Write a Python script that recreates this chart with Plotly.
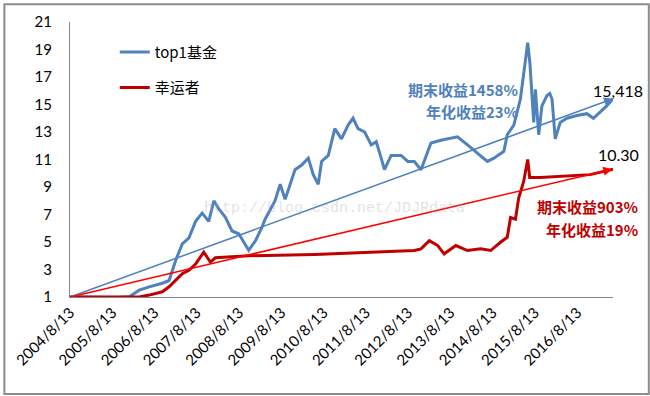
import plotly.graph_objects as go

# ---- data ----
fund_dates = [
    "2004-08-13", "2005-01-10", "2005-05-23", "2005-09-20", "2006-01-08", "2006-04-03",
    "2006-06-28", "2006-10-20", "2006-12-17", "2007-02-12", "2007-04-10",
    "2007-06-07", "2007-08-03", "2007-09-29", "2007-11-25", "2008-01-08",
    "2008-02-20", "2008-04-17", "2008-06-13", "2008-08-10", "2008-11-04",
    "2009-01-02", "2009-02-26", "2009-03-26", "2009-06-20", "2009-08-03",
    "2009-09-15", "2009-12-09", "2010-02-05", "2010-04-03", "2010-05-16",
    "2010-06-28", "2010-07-27", "2010-09-23", "2010-11-18", "2011-01-15",
    "2011-03-13", "2011-04-25", "2011-06-07", "2011-08-03", "2011-09-29",
    "2011-11-11", "2011-12-24", "2012-01-21", "2012-03-19", "2012-06-13",
    "2012-08-10", "2012-10-05", "2012-12-02", "2013-01-15", "2013-02-26",
    "2013-05-23", "2013-10-13", "2014-01-08", "2014-04-03", "2014-06-28",
    "2014-08-24", "2014-11-18", "2014-12-17", "2015-02-12", "2015-04-10",
    "2015-05-08", "2015-06-12", "2015-07-01", "2015-07-15", "2015-08-03",
    "2015-08-17", "2015-09-15", "2015-10-13", "2015-11-25", "2015-12-20",
    "2016-01-08", "2016-02-05", "2016-03-19", "2016-05-16", "2016-08-10",
    "2016-11-04", "2016-12-31", "2017-02-26", "2017-04-25", "2017-06-18",
]
fund_values = [
    1.00, 0.98, 1.00, 0.97, 1.02, 1.50,
    1.74, 2.00, 2.20, 3.66, 4.86,
    5.30, 6.50, 7.10, 6.50, 8.00,
    7.40, 6.80, 5.80, 5.60, 4.40,
    5.10, 6.06, 6.66, 8.00, 9.20,
    8.10, 10.26, 10.60, 11.10, 9.90,
    9.20, 10.86, 11.30, 13.25, 12.50,
    13.50, 14.00, 13.25, 13.00, 12.06,
    12.30, 11.10, 10.26, 11.30, 11.30,
    10.86, 10.86, 10.26, 11.30, 12.20,
    12.40, 12.65, 12.06, 11.45, 10.86,
    11.10, 11.60, 12.80, 13.50, 15.40,
    17.10, 19.50, 18.00, 16.40, 13.70,
    16.10, 12.80, 14.90, 15.65, 15.80,
    15.40, 12.50, 13.70, 14.00, 14.20,
    14.33, 14.00, 14.45, 14.90, 15.42,
]

lucky_dates = [
    "2004-08-13", "2006-04-03", "2006-06-28", "2006-10-20", "2006-12-17",
    "2007-02-12", "2007-04-10", "2007-06-07", "2007-08-03", "2007-10-13",
    "2007-12-09", "2008-01-21", "2008-11-04", "2010-05-30", "2012-10-05",
    "2012-12-02", "2013-02-12", "2013-04-25", "2013-06-20", "2013-09-29",
    "2014-01-08", "2014-05-01", "2014-07-27", "2014-10-20", "2014-12-17",
    "2015-01-15", "2015-02-26", "2015-03-26", "2015-05-08", "2015-06-12",
    "2015-06-29", "2015-09-29", "2016-12-02", "2017-06-18",
]
lucky_values = [
    1.00, 1.00, 1.14, 1.38, 1.74,
    2.20, 2.70, 2.94, 3.40, 4.26,
    3.54, 3.85, 4.00, 4.10, 4.38,
    4.50, 5.10, 4.74, 4.14, 4.74,
    4.38, 4.50, 4.38, 4.98, 5.34,
    6.78, 6.66, 8.20, 9.40, 11.00,
    9.70, 9.70, 9.90, 10.30,
]

series_names = ["top1基金", "幸运者"]
trend_start = ("2004-08-13", 1.0)
trend_end_dates = ["2017-06-18", "2017-06-12"]
trend_end_values = [15.418, 10.30]
end_labels = ["15,418", "10.30"]
fund_notes = ["期末收益1458%", "年化收益23%"]
lucky_notes = ["期末收益903%", "年化收益19%"]

tick_years = list(range(2004, 2017))
tick_vals = [f"{y}-08-13" for y in tick_years]
tick_text = [f"{y}/8/13" for y in tick_years]
y_ticks = list(range(1, 22, 2))

BLUE = "#4F81BD"
RED = "#C00000"
TREND_RED = "#FF0000"
FONT = "Lato, 'Noto Sans CJK SC', sans-serif"
CJK = "'Noto Sans CJK SC', Lato, sans-serif"

W, H = 650, 396
L, R, T, B = 67, 37, 19, 99
PW, PH = W - L - R, H - T - B


def px(x):
    return (x - L) / PW


def py(y):
    return (H - B - y) / PH


fig = go.Figure()

fig.add_trace(go.Scatter(
    x=fund_dates, y=fund_values, mode="lines", name=series_names[0],
    line=dict(color=BLUE, width=3), cliponaxis=False, legendgroup="a",
))
fig.add_trace(go.Scatter(
    x=lucky_dates, y=lucky_values, mode="lines", name=series_names[1],
    line=dict(color=RED, width=3), cliponaxis=False, legendgroup="b",
))

# trend lines with arrowheads
for end_d, end_v, col in zip(trend_end_dates, trend_end_values, [BLUE, TREND_RED]):
    fig.add_annotation(
        x=end_d, y=end_v, ax=trend_start[0], ay=trend_start[1],
        xref="x", yref="y", axref="x", ayref="y",
        text="", showarrow=True, arrowhead=2, arrowsize=1.2,
        arrowwidth=1.5, arrowcolor=col, standoff=0, startstandoff=0,
    )

# end labels
fig.add_annotation(x=px(618), y=py(88), xref="paper", yref="paper", text=end_labels[0],
                   showarrow=False, font=dict(family=FONT, size=16, color="#000000"),
                   xanchor="center", yanchor="middle")
fig.add_annotation(x=px(619), y=py(153), xref="paper", yref="paper", text=end_labels[1],
                   showarrow=False, font=dict(family=FONT, size=16, color="#000000"),
                   xanchor="center", yanchor="middle")

# return notes
for txt, yy in zip(fund_notes, [87, 109]):
    fig.add_annotation(x=px(519), y=py(yy), xref="paper", yref="paper",
                       text=f"<b>{txt}</b>", showarrow=False,
                       font=dict(family=CJK, size=15, color=BLUE),
                       xanchor="right", yanchor="middle")
for txt, yy in zip(lucky_notes, [206, 229]):
    fig.add_annotation(x=px(640), y=py(yy), xref="paper", yref="paper",
                       text=f"<b>{txt}</b>", showarrow=False,
                       font=dict(family=CJK, size=15, color=RED),
                       xanchor="right", yanchor="middle")

# watermark
fig.add_annotation(x=px(200), y=py(208), xref="paper", yref="paper",
                   text="http://blog.csdn.net/JDJRdata", showarrow=False,
                   font=dict(family="'Liberation Mono', monospace", size=15,
                             color="rgba(170,170,170,0.35)"),
                   xanchor="left", yanchor="middle")

# outer frame
fig.add_shape(type="rect", xref="paper", yref="paper",
              x0=px(1), x1=px(649), y0=py(395), y1=py(1),
              line=dict(color="#8C8C8C", width=2), fillcolor="rgba(0,0,0,0)", layer="above")

fig.update_layout(
    width=W, height=H,
    margin=dict(l=L, r=R, t=T, b=B, pad=0),
    paper_bgcolor="#FFFFFF", plot_bgcolor="#FFFFFF",
    font=dict(family=FONT, size=15, color="#000000"),
    showlegend=True,
    legend=dict(x=px(112), y=py(33), xanchor="left", yanchor="top",
                bgcolor="rgba(0,0,0,0)", tracegroupgap=13, traceorder="grouped",
                font=dict(family=CJK, size=15, color="#000000")),
    xaxis=dict(
        type="date", range=["2004-08-13", "2017-06-18"],
        tickmode="array", tickvals=tick_vals, ticktext=tick_text, tickangle=-45,
        showgrid=False, zeroline=False, showline=True, linecolor="#868686", linewidth=1,
        ticks="", tickfont=dict(family=FONT, size=15, color="#000000"),
    ),
    yaxis=dict(
        range=[1, 21], tickmode="array", tickvals=y_ticks,
        showgrid=False, zeroline=False, showline=True, linecolor="#868686", linewidth=1,
        ticks="", ticklabelstandoff=14, tickfont=dict(family=FONT, size=15, color="#000000"),
    ),
)

fig.write_html(
    "out.html",
    config={"displayModeBar": False},
    post_script="document.body.style.margin='0';document.body.style.padding='0';",
)
